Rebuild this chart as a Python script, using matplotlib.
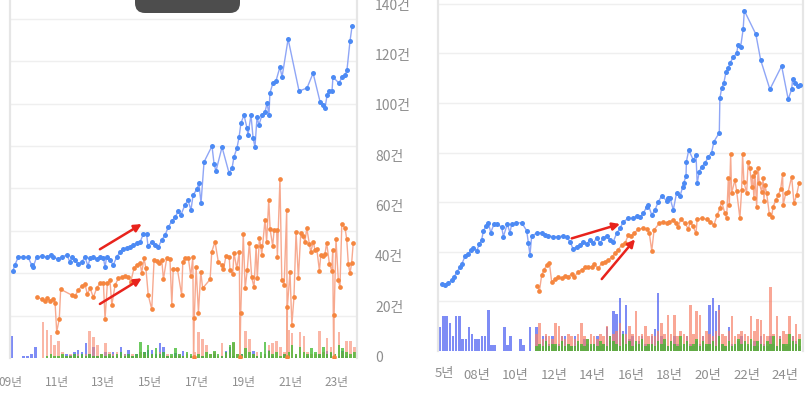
import matplotlib.pyplot as plt
import numpy as np
from matplotlib.patches import FancyBboxPatch
from matplotlib.transforms import IdentityTransform

plt.rcParams['font.family'] = ['Noto Sans CJK KR', 'DejaVu Sans']

# ---------------- left chart (2009 ~ 2023) ----------------
left_blue_t = [2009.12, 2009.21, 2009.36, 2009.57, 2009.77, 2009.93, 2009.99, 2010.14, 2010.36, 2010.57,
               2010.74, 2010.84, 2011.06, 2011.21, 2011.43, 2011.57, 2011.64, 2011.78, 2011.91, 2012.07,
               2012.21, 2012.34, 2012.43, 2012.57, 2012.71, 2012.85, 2013.00, 2013.07, 2013.14, 2013.28,
               2013.42, 2013.57, 2013.71, 2013.85, 2014.00, 2014.14, 2014.28, 2014.43, 2014.57, 2014.71,
               2014.85, 2014.91, 2015.07, 2015.21, 2015.35, 2015.50, 2015.64, 2015.78, 2015.93, 2016.07,
               2016.21, 2016.32, 2016.49, 2016.62, 2016.75, 2016.84, 2017.01, 2017.09, 2017.18, 2017.31,
               2017.65, 2017.74, 2017.82, 2018.08, 2018.38, 2018.51, 2018.59, 2018.72, 2018.81, 2018.89,
               2019.02, 2019.15, 2019.19, 2019.32, 2019.41, 2019.49, 2019.58, 2019.66, 2019.79, 2019.92,
               2020.01, 2020.09, 2020.13, 2020.26, 2020.39, 2020.56, 2020.65, 2020.91, 2021.38, 2021.72,
               2021.98, 2022.28, 2022.40, 2022.49, 2022.58, 2022.66, 2022.79, 2022.83, 2023.09, 2023.22,
               2023.35, 2023.43, 2023.56, 2023.65]
left_blue_v = [41.0, 43.9, 47.8, 47.6, 47.6, 43.9, 42.9, 47.6, 48.1, 47.6,
               48.6, 47.6, 46.7, 47.6, 48.6, 45.3, 47.6, 46.2, 44.3, 45.3,
               47.6, 43.4, 47.2, 47.6, 46.7, 47.6, 47.2, 42.9, 47.6, 46.2,
               43.9, 47.6, 50.0, 51.4, 51.9, 52.4, 53.3, 54.2, 54.7, 58.5,
               58.5, 52.8, 54.7, 53.3, 52.4, 55.7, 58.0, 61.8, 64.6, 66.5,
               69.3, 67.5, 72.2, 74.5, 69.8, 76.9, 79.7, 82.5, 73.1, 92.5,
               100.0, 91.5, 88.2, 99.5, 87.3, 89.6, 94.8, 99.1, 104.2, 110.8,
               114.6, 108.5, 105.2, 114.6, 103.8, 99.5, 113.7, 109.9, 114.6, 116.0,
               120.3, 114.6, 125.0, 129.7, 130.7, 137.3, 132.5, 150.5, 125.9, 127.4,
               134.4, 120.8, 119.3, 117.9, 124.1, 125.9, 125.9, 132.5, 129.7, 132.5,
               133.5, 135.8, 149.5, 156.6]

left_orange_t = [2010.17, 2010.36, 2010.50, 2010.60, 2010.71, 2010.83, 2010.93, 2011.00, 2011.11, 2011.17,
                 2011.64, 2011.78, 2011.93, 2012.07, 2012.21, 2012.31, 2012.43, 2012.57, 2012.71, 2012.85,
                 2013.00, 2013.07, 2013.17, 2013.28, 2013.36, 2013.50, 2013.64, 2013.78, 2013.93, 2014.07,
                 2014.17, 2014.31, 2014.43, 2014.57, 2014.64, 2014.74, 2014.82, 2014.92, 2015.07, 2015.17,
                 2015.28, 2015.39, 2015.50, 2015.57, 2015.71, 2015.85, 2015.93, 2015.99, 2016.17, 2016.35,
                 2016.40, 2016.50, 2016.64, 2016.74, 2016.83, 2016.86, 2016.89, 2016.97, 2017.07, 2017.17,
                 2017.25, 2017.57, 2017.64, 2017.78, 2017.92, 2018.07, 2018.14, 2018.25, 2018.39, 2018.42,
                 2018.54, 2018.59, 2018.71, 2018.82, 2018.85, 2018.88, 2018.99, 2019.07, 2019.16, 2019.25,
                 2019.35, 2019.45, 2019.54, 2019.59, 2019.68, 2019.74, 2019.78, 2019.92, 2019.99, 2020.08,
                 2020.14, 2020.25, 2020.31, 2020.42, 2020.45, 2020.56, 2020.64, 2020.74, 2020.85, 2020.87,
                 2020.88, 2020.99, 2021.07, 2021.16, 2021.25, 2021.35, 2021.45, 2021.54, 2021.63, 2021.71,
                 2021.82, 2021.88, 2021.99, 2022.06, 2022.14, 2022.25, 2022.31, 2022.39, 2022.49, 2022.56,
                 2022.68, 2022.78, 2022.82, 2022.86, 2022.88, 2022.96, 2023.06, 2023.13, 2023.21, 2023.35,
                 2023.42, 2023.49, 2023.56, 2023.63, 2023.70]
left_orange_v = [28.6, 27.8, 27.0, 28.2, 27.0, 27.7, 26.1, 12.4, 18.3, 32.4,
                 29.7, 29.2, 32.1, 34.0, 34.9, 30.2, 32.9, 28.6, 32.9, 35.2,
                 35.2, 18.3, 35.2, 36.8, 25.0, 34.4, 37.6, 38.1, 38.7, 38.1,
                 36.0, 42.3, 43.9, 45.0, 40.2, 47.0, 42.3, 29.7, 23.0, 46.2,
                 45.9, 45.0, 46.2, 37.1, 47.0, 46.6, 25.0, 41.8, 41.8, 29.7,
                 45.4, 47.0, 47.0, 38.7, 47.5, 0.5, 18.7, 42.8, 21.4, 40.7,
                 32.9, 37.1, 50.1, 54.9, 45.4, 43.9, 41.8, 48.1, 47.5, 41.5,
                 39.6, 49.7, 42.3, 50.1, 0.5, 21.1, 58.5, 32.9, 41.5, 54.4,
                 38.1, 33.3, 52.8, 37.6, 56.5, 52.8, 48.6, 65.1, 54.9, 74.5,
                 60.7, 52.8, 60.4, 60.4, 47.5, 84.3, 36.8, 34.4, 69.8, 0.5,
                 24.2, 40.7, 15.6, 28.6, 59.6, 37.6, 58.8, 57.5, 54.9, 61.2,
                 53.8, 50.1, 54.9, 50.9, 51.3, 41.2, 48.6, 48.1, 49.1, 54.4,
                 44.3, 41.2, 50.9, 0.5, 20.3, 56.0, 36.8, 33.3, 63.2, 61.2,
                 56.0, 44.3, 40.0, 44.7, 54.4]

# bar counts, two-month buckets, one row per year
left_bar_blue = [[10.4, 0, 0, 1, 1, 2], [5, 0, 0, 0, 0, 0], [0, 0, 2, 1.5, 3, 4],
                 [3, 7, 2, 5, 1, 0], [3, 1, 3, 1, 5, 2], [4, 1, 2, 0, 3, 4],
                 [4, 2, 7, 5, 1, 0], [2.5, 1, 3.5, 0, 1, 0], [0, 1, 0, 0, 2, 0],
                 [1, 3.5, 5, 1, 0, 2], [0, 0, 3.5, 1, 0, 2], [4, 1, 0, 0, 2, 0],
                 [0, 1, 0, 0, 1, 0], [0, 2, 0, 3.5, 2.5, 0], [1, 3.5, 1, 0, 0]]
left_bar_pink = [[0, 0, 17, 13, 11, 6], [8, 3, 1, 2, 1, 2], [1, 2, 12.6, 10, 6, 2],
                 [7, 3, 2, 3, 1, 2], [1, 2, 1, 3, 2, 1], [2, 1, 3, 1, 2, 1],
                 [1, 2, 1, 2, 1, 3], [12.3, 9, 6, 2, 3, 1], [7, 2, 3, 7, 2, 1],
                 [12.6, 9, 2, 3, 1, 2], [6, 7, 8, 5, 3, 13], [12, 2, 12.3, 10.4, 3, 2],
                 [2, 12.6, 3, 9.4, 5, 2], [12.3, 3, 8, 8, 5]]
left_bar_green = [[0, 0, 0, 1, 2, 1], [1, 2, 1, 1, 2, 1], [2, 1, 2, 1, 1, 2],
                  [1, 2, 1, 2, 3, 1], [2, 1, 2, 7.5, 3, 6], [2, 4.5, 2, 3, 1, 2],
                  [4.5, 2, 1, 3, 2, 1], [2, 1, 3, 2, 3.5, 2], [1, 3, 6, 7.5, 2, 2],
                  [4.5, 3, 2, 1, 3, 7.5], [3.5, 2, 3, 1, 2, 3], [6, 2, 5, 3, 2, 4.5],
                  [3, 2, 5, 2, 3, 2], [6, 4.5, 3, 2, 3]]
left_ticks = [2009, 2011, 2013, 2015, 2017, 2019, 2021, 2023]
left_ticklabels = ['09년', '11년', '13년', '15년', '17년', '19년', '21년', '23년']

# ---------------- right chart (2006 ~ 2024) ----------------
right_blue_t = [2006.17, 2006.34, 2006.51, 2006.69, 2006.81, 2006.95, 2007.12, 2007.21, 2007.38, 2007.55,
                2007.67, 2007.81, 2007.98, 2008.12, 2008.24, 2008.33, 2008.47, 2008.59, 2008.71, 2008.88,
                2009.04, 2009.28, 2009.37, 2009.57, 2009.71, 2009.80, 2010.03, 2010.32, 2010.58, 2010.67,
                2010.75, 2010.84, 2011.10, 2011.36, 2011.53, 2011.70, 2011.96, 2012.22, 2012.48, 2012.66,
                2012.83, 2013.00, 2013.18, 2013.35, 2013.52, 2013.70, 2013.87, 2014.04, 2014.22, 2014.39,
                2014.56, 2014.74, 2014.91, 2015.08, 2015.26, 2015.43, 2015.60, 2015.86, 2016.12, 2016.30,
                2016.47, 2016.64, 2016.82, 2016.90, 2017.08, 2017.25, 2017.42, 2017.60, 2017.85, 2017.94,
                2018.03, 2018.20, 2018.37, 2018.55, 2018.69, 2018.75, 2018.86, 2018.88, 2019.00, 2019.24,
                2019.38, 2019.44, 2019.55, 2019.67, 2019.84, 2020.02, 2020.19, 2020.31, 2020.59, 2020.62,
                2020.71, 2020.83, 2020.94, 2021.06, 2021.14, 2021.31, 2021.49, 2021.57, 2021.70, 2021.83,
                2021.89, 2022.49, 2022.74, 2023.22, 2023.83, 2024.17, 2024.35, 2024.40, 2024.52, 2024.69,
                2024.78]
right_blue_v = [27.0, 26.6, 27.5, 28.6, 29.7, 32.0, 33.7, 35.1, 38.3, 39.1,
                40.7, 41.4, 40.4, 43.1, 44.8, 48.5, 50.4, 51.7, 47.7, 51.2,
                51.2, 49.9, 46.1, 51.2, 47.7, 51.2, 51.6, 51.7, 48.5, 43.4,
                38.7, 46.4, 47.5, 47.7, 46.8, 46.4, 46.1, 46.1, 46.4, 45.8,
                44.1, 41.0, 42.1, 42.7, 44.1, 43.1, 44.8, 43.5, 45.6, 43.4,
                45.6, 46.4, 44.8, 44.1, 47.5, 49.5, 52.1, 53.5, 53.5, 54.4,
                53.9, 55.5, 58.2, 58.9, 54.8, 56.9, 60.2, 62.5, 60.6, 61.6,
                61.6, 56.9, 63.8, 62.5, 66.2, 67.9, 70.6, 76.3, 81.0, 77.0,
                79.0, 67.6, 72.3, 74.3, 75.7, 78.3, 80.0, 84.4, 88.0, 101.9,
                105.9, 108.2, 112.6, 114.0, 116.0, 118.4, 120.0, 123.4, 122.7, 129.7,
                137.2, 127.7, 117.3, 105.5, 114.9, 101.5, 105.5, 109.5, 108.2, 106.8,
                107.3]

right_orange_t = [2011.13, 2011.24, 2011.36, 2011.48, 2011.62, 2011.76, 2011.88, 2012.05, 2012.22, 2012.40,
                  2012.57, 2012.74, 2012.92, 2013.04, 2013.26, 2013.44, 2013.61, 2013.78, 2013.96, 2014.08,
                  2014.30, 2014.48, 2014.65, 2014.82, 2015.00, 2015.17, 2015.32, 2015.52, 2015.69, 2015.86,
                  2016.00, 2016.16, 2016.38, 2016.64, 2016.85, 2016.95, 2017.08, 2017.20, 2017.47, 2017.65,
                  2017.85, 2017.99, 2018.20, 2018.34, 2018.46, 2018.58, 2018.81, 2018.98, 2019.07, 2019.21,
                  2019.38, 2019.44, 2019.67, 2019.93, 2020.10, 2020.31, 2020.48, 2020.62, 2020.71, 2020.88,
                  2020.97, 2021.06, 2021.11, 2021.18, 2021.23, 2021.40, 2021.49, 2021.66, 2021.75, 2021.80,
                  2021.87, 2022.01, 2022.09, 2022.18, 2022.27, 2022.32, 2022.39, 2022.44, 2022.53, 2022.61,
                  2022.67, 2022.79, 2022.87, 2022.91, 2022.96, 2023.05, 2023.19, 2023.31, 2023.39, 2023.53,
                  2023.65, 2023.78, 2023.88, 2023.91, 2024.05, 2024.17, 2024.35, 2024.47, 2024.61, 2024.74]
right_orange_v = [26.2, 24.2, 30.6, 32.7, 34.7, 35.4, 27.8, 28.9, 29.7, 29.3,
                  30.2, 30.0, 31.0, 29.7, 32.0, 32.7, 33.7, 34.0, 34.0, 35.1,
                  33.3, 35.4, 36.0, 36.7, 37.8, 39.4, 40.7, 42.7, 43.4, 46.8,
                  46.4, 47.5, 49.1, 49.5, 49.1, 47.5, 40.4, 48.8, 51.5, 52.1,
                  51.7, 52.1, 52.8, 51.5, 50.1, 53.1, 51.5, 49.1, 52.1, 50.4,
                  47.5, 53.1, 53.5, 53.1, 52.1, 50.8, 54.8, 57.5, 60.2, 55.5,
                  53.5, 69.6, 58.9, 79.4, 63.6, 68.9, 64.6, 53.5, 64.9, 79.4,
                  68.3, 63.6, 76.3, 73.7, 66.2, 70.6, 61.6, 72.3, 58.2, 73.7,
                  67.6, 64.2, 69.6, 60.6, 66.9, 63.6, 55.2, 54.2, 58.2, 60.9,
                  62.9, 65.2, 71.4, 58.9, 63.8, 64.2, 70.3, 59.6, 62.9, 67.9]

right_bar_blue = [[9.5, 14.1, 14.1, 11.4, 6, 14.1], [14.1, 5, 5, 9.5, 7, 5], [5, 6, 6, 16.5, 2.4, 2.4],
                  [0, 0, 9.5, 2.4, 6, 0], [0, 5, 2.4, 0, 9.5, 0], [9.5, 2, 6, 6, 3, 6],
                  [2, 3, 6, 6, 3, 2], [6, 3, 2, 5, 3, 2], [3, 6, 2, 3, 9.5, 4],
                  [16, 15, 21.2, 8, 18.5, 5], [6, 3, 4, 6, 3, 2], [6, 9, 23.3, 6, 3, 2],
                  [4, 6, 3, 2, 3, 6], [3, 2, 4, 3, 6, 2], [18.5, 21.2, 16, 18.5, 3, 2],
                  [9.5, 3, 2, 4, 6, 3], [2, 3, 4, 2, 6, 3], [2, 6, 3, 2, 6, 3], [2, 3, 6, 4, 2]]
right_bar_pink = [[7, 11.4, 5, 7, 6, 5], [11.4, 10, 6, 5, 7, 6], [5, 7, 11.4, 6, 5, 7],
                  [6, 5, 7, 6, 10, 6], [7, 8, 11.4, 6, 7, 10], [7, 16, 6, 7, 10, 6],
                  [7, 6, 8, 11.4, 7, 14.5], [7, 14.5, 6, 8, 7, 6], [18.5, 7, 16, 14.5, 6, 8],
                  [7, 6, 8, 16.5, 7, 6], [8, 14, 6, 7, 8, 7], [6, 14, 8, 13, 12.5, 7],
                  [6, 25.9, 7, 14, 6, 8], [7, 14, 6, 11, 7]]
right_bar_green = [[2, 3, 2, 4, 2, 3], [3, 2, 4, 2, 3, 2], [2, 4, 3, 2, 5, 3],
                   [3, 2, 4, 3, 2, 6], [4, 3, 2, 7, 3, 4], [2, 4, 3, 5, 2, 3],
                   [3, 2, 4, 3, 5, 2], [4, 3, 2, 6, 3, 4], [2, 3, 5, 2, 4, 3],
                   [3, 4, 2, 6, 3, 2], [4, 2, 3, 5, 3, 4], [3, 5, 2, 4, 3, 2],
                   [4, 3, 6, 2, 5, 3], [3, 7, 4, 3, 5]]
right_ticks = [2008, 2010, 2012, 2014, 2016, 2018, 2020, 2022, 2024]
right_ticklabels = ['08년', '10년', '12년', '14년', '16년', '18년', '20년', '22년', '24년']
right_ylabels = [0, 20, 40, 60, 80, 100, 120, 140]

BLUE_DOT, BLUE_LINE = '#4c8af4', '#8fa6f6'
ORANGE_DOT, ORANGE_LINE = '#f5863f', '#f7a98f'
ARROW = '#e8231c'
GRID = '#efefef'
TXT = '#8e8e8e'


def bimonthly(start_year, rows):
    vals = np.array([v for row in rows for v in row], dtype=float)
    pos = start_year + (np.arange(len(vals)) + 0.5) / 6
    return pos, vals


def style(ax):
    for s in ('top', 'bottom'):
        ax.spines[s].set_visible(False)
    for s in ('left', 'right'):
        ax.spines[s].set_color('#e6e6e6')
        ax.spines[s].set_linewidth(1.6)
    ax.yaxis.grid(True, color=GRID, linewidth=1.0)
    ax.set_axisbelow(True)
    ax.tick_params(length=0, labelleft=False)


W, H = 807, 398
fig = plt.figure(figsize=(W / 100, H / 100), dpi=100)
fig.patch.set_facecolor('white')

# left chart
ax_l = fig.add_axes([10 / W, (H - 358) / H, 347 / W, 358 / H])
style(ax_l)
ax_l.set_xlim(2009.0, 2023.86)
ax_l.set_ylim(0, 168.9)
ax_l.set_yticks(np.arange(20, 161, 20))
for rows, start, col, a in [(left_bar_blue, 2009, '#5366f2', 0.75),
                            (left_bar_pink, 2010, '#f8876c', 0.6),
                            (left_bar_green, 2010, '#3db92c', 0.75)]:
    x, v = bimonthly(start, rows)
    ax_l.bar(x, v, width=0.11, color=col, alpha=a, linewidth=0, zorder=1)
ax_l.plot(left_orange_t, left_orange_v, color=ORANGE_LINE, lw=1.0, zorder=2)
ax_l.plot(left_orange_t, left_orange_v, 'o', color=ORANGE_DOT, ms=3.4, mew=0, zorder=3)
ax_l.plot(left_blue_t, left_blue_v, color=BLUE_LINE, lw=1.0, zorder=4)
ax_l.plot(left_blue_t, left_blue_v, 'o', color=BLUE_DOT, ms=3.6, mew=0, zorder=5)
ax_l.set_xticks(left_ticks)
ax_l.set_xticklabels(left_ticklabels, fontsize=8.5, color=TXT)
ax_l.tick_params(axis='x', pad=13)

# right chart
ax_r = fig.add_axes([438 / W, (H - 351) / H, 365 / W, 351 / H])
style(ax_r)
ax_r.set_xlim(2005.97, 2024.94)
ax_r.set_ylim(0, 141.5)
ax_r.set_yticks(np.arange(20, 141, 20))
for rows, start, col, a in [(right_bar_blue, 2006, '#5366f2', 0.75),
                            (right_bar_pink, 2011, '#f7826a', 0.7),
                            (right_bar_green, 2011, '#3db92c', 0.75)]:
    x, v = bimonthly(start, rows)
    ax_r.bar(x, v, width=0.13, color=col, alpha=a, linewidth=0, zorder=1)
ax_r.plot(right_orange_t, right_orange_v, color=ORANGE_LINE, lw=1.0, zorder=2)
ax_r.plot(right_orange_t, right_orange_v, 'o', color=ORANGE_DOT, ms=3.4, mew=0, zorder=3)
ax_r.plot(right_blue_t, right_blue_v, color=BLUE_LINE, lw=1.0, zorder=4)
ax_r.plot(right_blue_t, right_blue_v, 'o', color=BLUE_DOT, ms=3.6, mew=0, zorder=5)
ax_r.set_xticks(right_ticks)
ax_r.set_xticklabels(right_ticklabels, fontsize=9.5, color=TXT)
ax_r.tick_params(axis='x', pad=13)
ax_r.text(2005.82, -23 / 351, '5년', transform=ax_r.get_xaxis_transform(),
          ha='left', va='center', fontsize=9.5, color=TXT, clip_on=False)
for v in right_ylabels:
    ax_r.annotate(f'{v}건' if v else '0', xy=(0, v), xycoords=('axes fraction', 'data'),
                  xytext=(-63, -7 + v * 0.035), textcoords='offset pixels', ha='left', va='center',
                  fontsize=10, color=TXT, annotation_clip=False)

# red trend arrows
arrow_kw = dict(arrowstyle='-|>', color=ARROW, lw=1.8, mutation_scale=11, shrinkA=0, shrinkB=0)
ax_l.annotate('', xy=(2014.64, 63.2), xytext=(2012.85, 51.3), arrowprops=arrow_kw, zorder=6)
ax_l.annotate('', xy=(2014.64, 37.6), xytext=(2012.85, 25.5), arrowprops=arrow_kw, zorder=6)
ax_r.annotate('', xy=(2015.43, 51.2), xytext=(2012.92, 45.4), arrowprops=arrow_kw, zorder=6)
ax_r.annotate('', xy=(2016.21, 45.0), xytext=(2014.48, 29.0), arrowprops=arrow_kw, zorder=6)

# dark rounded tab at top of the left screenshot
fig.add_artist(FancyBboxPatch((135, H - 13), 105, 30, boxstyle='round,pad=0,rounding_size=10',
                              transform=IdentityTransform(), fc='#4d4d4d', ec='none'))

fig.savefig('out.png', dpi=100, facecolor='white')
